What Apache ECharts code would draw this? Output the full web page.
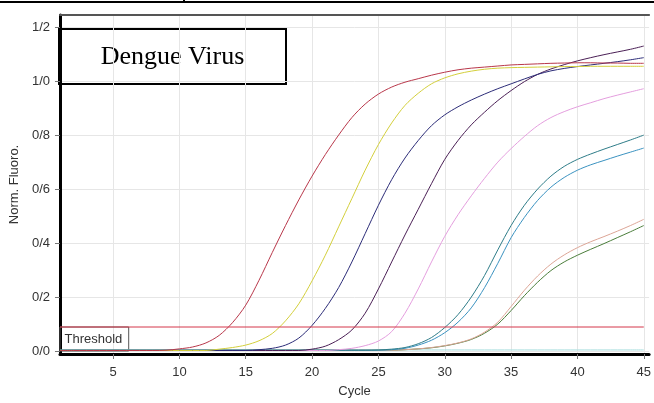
<!DOCTYPE html>
<html>
<head>
<meta charset="utf-8">
<script src="https://cdn.jsdelivr.net/npm/echarts@6/dist/echarts.min.js"></script>
<style>
html,body{margin:0;padding:0;background:#fff;}
#chart{width:654px;height:403px;}
</style>
</head>
<body>
<div id="chart"></div>
<script>
// ---- data ----
var cycles = [1,2,3,4,5,6,7,8,9,10,11,12,13,14,15,16,17,18,19,20,21,22,23,24,25,26,27,28,29,30,31,32,33,34,35,36,37,38,39,40,41,42,43,44,45];
var xTicks = [5,10,15,20,25,30,35,40,45];
var yTicks = [0,0.2,0.4,0.6,0.8,1.0,1.2];

var redCurve = [0.002,0.002,0.002,0.002,0.002,0.002,0.002,0.002,0.003,0.008,0.015,0.03,0.058,0.105,0.17,0.262,0.365,0.465,0.56,0.648,0.728,0.80,0.865,0.915,0.952,0.978,0.996,1.009,1.022,1.033,1.042,1.048,1.052,1.056,1.06,1.062,1.064,1.066,1.067,1.068,1.068,1.067,1.067,1.066,1.066];
var yellowCurve = [0.002,0.002,0.002,0.002,0.002,0.002,0.002,0.002,0.002,0.002,0.002,0.002,0.007,0.013,0.022,0.038,0.065,0.112,0.175,0.26,0.355,0.46,0.565,0.67,0.765,0.845,0.91,0.955,0.99,1.012,1.027,1.037,1.044,1.048,1.05,1.051,1.052,1.053,1.054,1.054,1.055,1.055,1.055,1.055,1.055];
var navyCurve = [0.002,0.002,0.002,0.002,0.002,0.002,0.002,0.002,0.002,0.002,0.002,0.002,0.002,0.002,0.002,0.005,0.01,0.022,0.048,0.095,0.158,0.235,0.33,0.435,0.54,0.635,0.715,0.78,0.835,0.875,0.905,0.93,0.952,0.972,0.99,1.008,1.025,1.038,1.047,1.054,1.06,1.066,1.072,1.079,1.087];
var purpleCurve = [0.002,0.002,0.002,0.002,0.002,0.002,0.002,0.002,0.002,0.002,0.002,0.002,0.002,0.002,0.002,0.002,0.002,0.002,0.002,0.007,0.018,0.042,0.078,0.14,0.23,0.33,0.43,0.525,0.62,0.71,0.78,0.838,0.885,0.928,0.965,0.998,1.025,1.045,1.061,1.075,1.087,1.098,1.108,1.118,1.13];
var pinkCurve = [0.002,0.002,0.002,0.002,0.002,0.002,0.002,0.002,0.002,0.002,0.002,0.002,0.002,0.002,0.002,0.002,0.002,0.002,0.002,0.002,0.002,0.005,0.01,0.02,0.037,0.072,0.14,0.23,0.33,0.425,0.505,0.575,0.64,0.70,0.75,0.795,0.835,0.865,0.887,0.905,0.92,0.935,0.948,0.96,0.972];
var tealCurve = [0.003,0.003,0.003,0.003,0.003,0.003,0.003,0.003,0.003,0.003,0.003,0.003,0.003,0.003,0.003,0.003,0.003,0.003,0.003,0.003,0.003,0.003,0.003,0.003,0.004,0.007,0.013,0.027,0.05,0.087,0.135,0.2,0.28,0.375,0.465,0.54,0.6,0.648,0.684,0.71,0.73,0.748,0.765,0.782,0.8];
var blueCurve = [0.003,0.003,0.003,0.003,0.003,0.003,0.003,0.003,0.003,0.003,0.003,0.003,0.003,0.003,0.003,0.003,0.003,0.003,0.003,0.003,0.003,0.003,0.003,0.003,0.003,0.005,0.01,0.022,0.04,0.068,0.107,0.16,0.235,0.325,0.42,0.495,0.558,0.607,0.643,0.67,0.69,0.706,0.722,0.737,0.752];
var salmonCurve = [0.003,0.003,0.003,0.003,0.003,0.003,0.003,0.003,0.003,0.003,0.003,0.003,0.003,0.003,0.003,0.003,0.003,0.003,0.003,0.003,0.003,0.003,0.003,0.003,0.003,0.003,0.005,0.008,0.013,0.02,0.03,0.045,0.07,0.107,0.165,0.225,0.278,0.322,0.356,0.383,0.405,0.424,0.444,0.465,0.488];
var greenCurve = [0.003,0.003,0.003,0.003,0.003,0.003,0.003,0.003,0.003,0.003,0.003,0.003,0.003,0.003,0.003,0.003,0.003,0.003,0.003,0.003,0.003,0.003,0.003,0.003,0.003,0.003,0.005,0.008,0.012,0.019,0.029,0.043,0.066,0.1,0.15,0.205,0.255,0.298,0.33,0.355,0.377,0.398,0.42,0.442,0.465];
var ntcCurve = [0.004,0.004,0.004,0.004,0.004,0.004,0.004,0.004,0.004,0.004,0.004,0.004,0.004,0.004,0.004,0.004,0.004,0.004,0.004,0.004,0.004,0.004,0.004,0.004,0.004,0.004,0.004,0.004,0.004,0.004,0.004,0.004,0.004,0.004,0.004,0.004,0.004,0.004,0.004,0.004,0.004,0.004,0.004,0.004,0.004];
var thresholdCycles = [1,45];
var thresholdValues = [0.089,0.089];
var thresholdBoxEnd = 6.18;

// ---- build ----
function pairs(xs, ys){ return xs.map(function(x,i){ return [x, ys[i]]; }); }

var curveDefs = [
  {name:'NTC', data: ntcCurve, color:'#a6dede'},
  {name:'S9', data: greenCurve, color:'#4a7d3a'},
  {name:'S8', data: salmonCurve, color:'#dca596'},
  {name:'S7', data: blueCurve, color:'#3a92c0'},
  {name:'S6', data: tealCurve, color:'#2e7c88'},
  {name:'S5', data: pinkCurve, color:'#e49ede'},
  {name:'S4', data: purpleCurve, color:'#4a1f55'},
  {name:'S3', data: navyCurve, color:'#2c2c78'},
  {name:'S2', data: yellowCurve, color:'#d3cf3c'},
  {name:'S1', data: redCurve, color:'#b8374a'}
];

var series = curveDefs.map(function(d){
  return {
    name: d.name, type:'line', data: pairs(cycles, d.data),
    showSymbol:false, smooth:0.3,
    lineStyle:{color:d.color, width:1}, itemStyle:{color:d.color},
    silent:true, z:3
  };
});

series.push({
  name:'Threshold', type:'line', data: pairs(thresholdCycles, thresholdValues),
  showSymbol:false, lineStyle:{color:'#d4364a', width:1}, silent:true, z:4,
  markArea:{
    silent:true,
    itemStyle:{color:'rgba(0,0,0,0)', borderColor:'#555', borderWidth:1},
    label:{show:true, position:'insideLeft', distance:5, color:'#333', fontSize:13, fontFamily:'Liberation Sans, Arial, sans-serif'},
    data:[[{name:'Threshold', xAxis: thresholdCycles[0], yAxis: thresholdValues[0]}, {xAxis: thresholdBoxEnd, yAxis: 0}]]
  }
});

function fmtY(v){
  for (var i=0;i<yTicks.length;i++){ if (Math.abs(v-yTicks[i])<1e-6) return yTicks[i].toFixed(1).replace('.', '/'); }
  return '';
}

var font = 'Liberation Sans, Arial, sans-serif';
var chart = echarts.init(document.getElementById('chart'), null, {renderer:'canvas'});
chart.setOption({
  animation:false,
  backgroundColor:'#fff',
  grid:{left:58, top:15, right:0, bottom:45, containLabel:false},
  xAxis:[{
    type:'value', min:1, max:45.4,
    name:'Cycle', nameLocation:'middle', nameGap:31,
    nameTextStyle:{color:'#333', fontSize:13, fontFamily:font},
    axisLine:{show:true, onZero:false, lineStyle:{color:'#000', width:3}},
    axisTick:{show:true, length:5, customValues:xTicks, lineStyle:{color:'#777'}},
    axisLabel:{customValues:xTicks, color:'#333', fontSize:13, fontFamily:font, margin:12, showMinLabel:true, showMaxLabel:true},
    splitLine:{show:true, lineStyle:{color:'#e6e6e6', width:1}}
  },{
    type:'value', min:1, max:45.4, position:'top',
    axisLine:{show:true, onZero:false, lineStyle:{color:'#555', width:2}},
    axisTick:{show:false}, axisLabel:{show:false}, splitLine:{show:false}
  }],
  yAxis:{
    type:'value', min:-0.011, max:1.245,
    name:'Norm. Fluoro.', nameLocation:'middle', nameGap:30, nameRotate:90,
    nameTextStyle:{color:'#333', fontSize:13, fontFamily:font},
    axisLine:{show:true, onZero:false, lineStyle:{color:'#000', width:3}},
    axisTick:{show:true, length:5, customValues:yTicks, lineStyle:{color:'#777'}},
    axisLabel:{customValues:yTicks, formatter:fmtY, color:'#333', fontSize:13, fontFamily:font, margin:10},
    splitLine:{show:true, lineStyle:{color:'#e6e6e6', width:1}}
  },
  series: series,
  graphic:[
    {type:'rect', left:0, top:1, shape:{width:654, height:2}, style:{fill:'#000'}, z:100},
    {type:'rect', left:183, top:0, shape:{width:2, height:3}, style:{fill:'#000'}, z:100},
    {type:'group', left:58, top:28, z:100, children:[
      {type:'rect', shape:{x:0, y:0, width:227, height:55}, style:{fill:'#fff', stroke:'#000', lineWidth:2}},
      {type:'text', x:113.5, y:28, style:{text:'Dengue Virus', fill:'#000', font:'26px "Liberation Serif", "Times New Roman", serif', textAlign:'center', textVerticalAlign:'middle'}}
    ]}
  ]
});
</script>
</body>
</html>
